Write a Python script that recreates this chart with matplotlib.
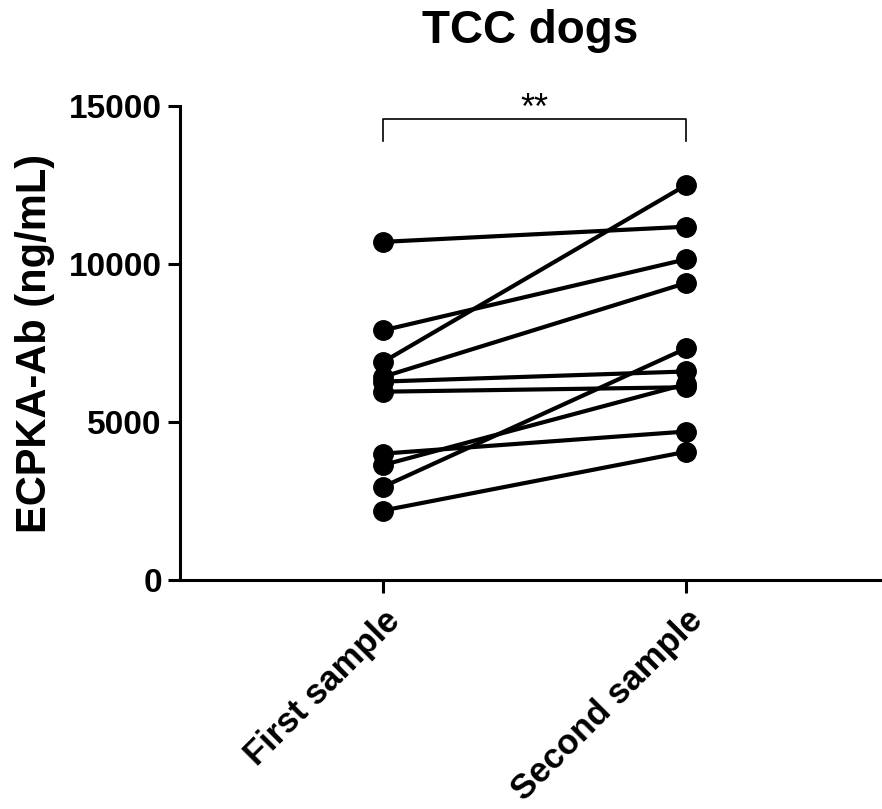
import matplotlib.pyplot as plt

plt.rcParams['font.family'] = ['Liberation Sans', 'DejaVu Sans']

# Date (perechi: prima / a doua probă)
groups = ["First sample", "Second sample"]
first = [10700, 7900, 6900, 6430, 6280, 5960, 4000, 3640, 2950, 2200]
second = [11180, 10150, 12500, 9400, 6600, 6100, 4700, 6200, 7330, 4060]
yticks = [0, 5000, 10000, 15000]

fig = plt.figure(figsize=(8.82, 8.09), dpi=100)
ax = fig.add_axes([0.204, 0.283, 0.794, 0.586])

# Linii pereche
for a, b in zip(first, second):
    ax.plot([0, 1], [a, b], color='black', lw=3, marker='o', ms=14,
            solid_capstyle='round', clip_on=False, zorder=3)

ax.set_xlim(-0.67, 1.64)
ax.set_ylim(0, 15000)
ax.set_yticks(yticks)
ax.set_yticklabels([str(t) for t in yticks], fontsize=24, fontweight='bold')
ax.set_xticks([0, 1])
ax.set_xticklabels(groups, fontsize=25, fontweight='bold', rotation=45,
                   ha='right', rotation_mode='anchor')

ax.spines['top'].set_visible(False)
ax.spines['right'].set_visible(False)
ax.spines['left'].set_linewidth(2.2)
ax.spines['bottom'].set_linewidth(2.2)
ax.tick_params(width=2.2, length=9, pad=4)
ax.tick_params(axis='x', pad=8)

ax.set_ylabel("ECPKA-Ab (ng/mL)", fontsize=30, fontweight='bold', labelpad=10)
ax.set_title("TCC dogs", fontsize=33, fontweight='bold', pad=45)

# Paranteza de semnificație
ax.plot([0, 0, 1, 1], [13900, 14600, 14600, 13900], color='black', lw=1.2,
        clip_on=False)
ax.text(0.5, 14330, "**", ha='center', va='bottom', fontsize=26,
        clip_on=False)

fig.savefig("out.png", dpi=100)
